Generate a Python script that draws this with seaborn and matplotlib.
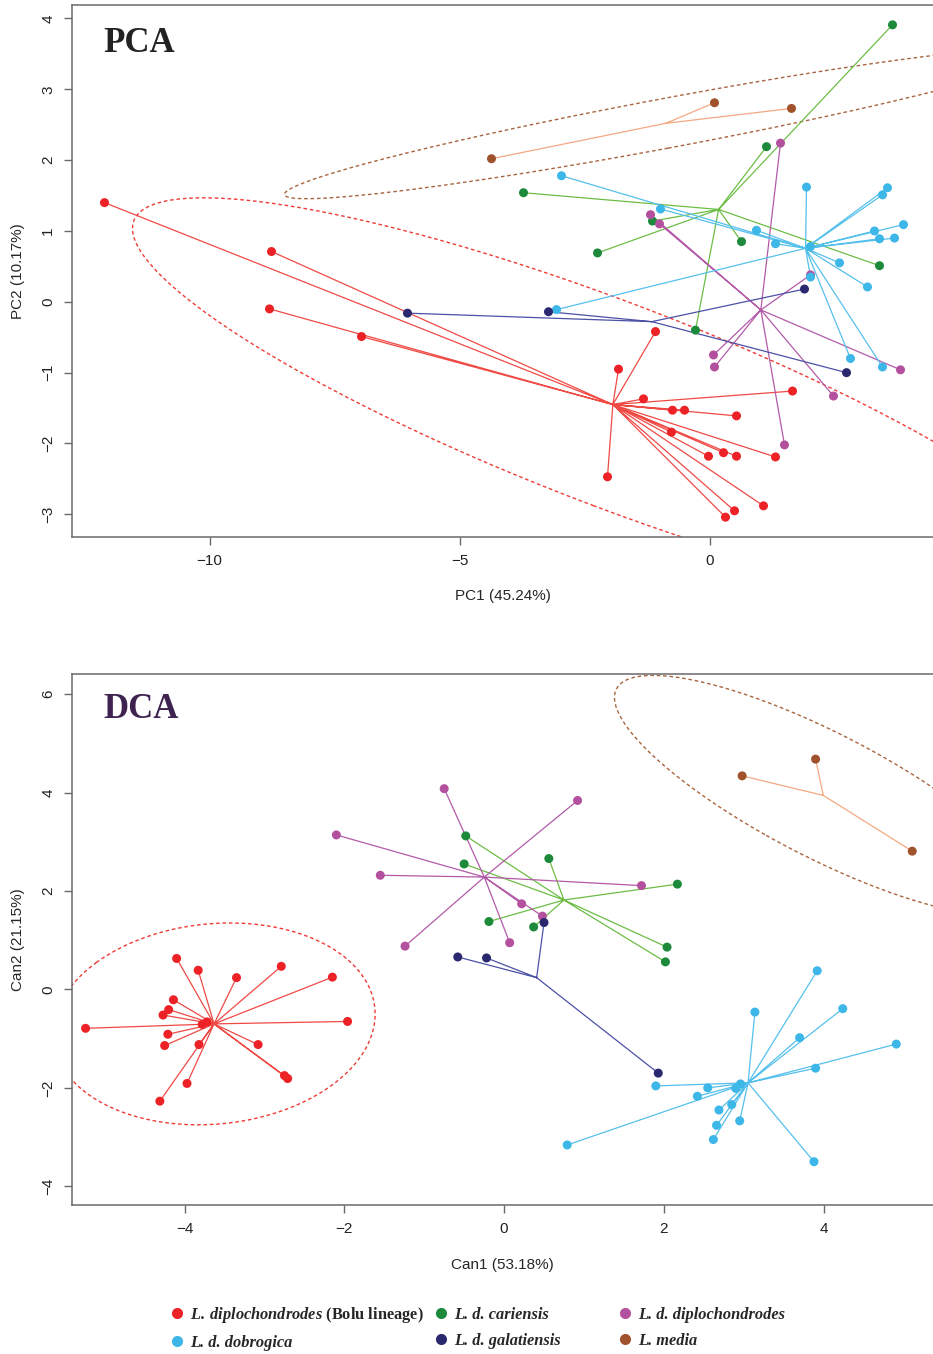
import numpy as np
import pandas as pd
import matplotlib
matplotlib.use("Agg")
import matplotlib.pyplot as plt
from matplotlib.lines import Line2D
import seaborn as sns

sns.set_style("ticks")
plt.rcParams['font.family'] = ['Liberation Sans', 'DejaVu Sans']
plt.rcParams.update({
    'mathtext.fontset': 'custom',
    'mathtext.rm': 'Liberation Serif:bold',
    'mathtext.it': 'Liberation Serif:italic:bold',
    'mathtext.bf': 'Liberation Serif:bold',
    'mathtext.bfit': 'Liberation Serif:italic:bold',
})

# ---------------------------------------------------------
# Data
# ---------------------------------------------------------
groups = ["bolu", "dobrogica", "cariensis", "galatiensis", "diplochondrodes", "media"]
group_labels = [
    r"$\mathbfit{L.\:diplochondrodes}$ (Bolu lineage)",
    "L. d. dobrogica",
    "L. d. cariensis",
    "L. d. galatiensis",
    "L. d. diplochondrodes",
    "L. media",
]

# PCA scores
bolu_pc1 = [-12.1, -8.76, -8.8, -6.96, -1.08, -1.82, -1.32, -0.74, -0.5, 0.54,
            1.66, -0.76, -0.02, 0.28, 0.54, 1.32, -2.04, 1.08, 0.5, 0.32]
bolu_pc2 = [1.40, 0.71, -0.10, -0.49, -0.42, -0.95, -1.37, -1.53, -1.53, -1.61,
            -1.26, -1.84, -2.18, -2.13, -2.18, -2.19, -2.47, -2.88, -2.95, -3.04]
cariensis_pc1 = [3.66, 1.14, -3.72, -1.14, 0.64, -2.24, 3.40, -0.28]
cariensis_pc2 = [3.91, 2.19, 1.54, 1.14, 0.85, 0.69, 0.51, -0.40]
diplo_pc1 = [1.42, -1.18, -1.00, 2.02, 0.08, 0.10, 3.82, 2.48, 1.50]
diplo_pc2 = [2.24, 1.23, 1.10, 0.38, -0.75, -0.92, -0.96, -1.33, -2.02]
dobro_pc1 = [-2.96, -0.98, 0.94, 1.32, 1.94, 3.56, 3.46, 3.88, 3.30, 3.40,
             3.70, 2.60, 3.16, 2.02, 2.02, -3.06, 2.82, 3.46]
dobro_pc2 = [1.78, 1.31, 1.01, 0.82, 1.62, 1.61, 1.51, 1.09, 1.00, 0.89,
             0.90, 0.55, 0.21, 0.35, 0.78, -0.11, -0.80, -0.92]
galat_pc1 = [-6.04, -3.22, 1.90, 2.74]
galat_pc2 = [-0.16, -0.14, 0.18, -1.00]
media_pc1 = [-4.36, 0.10, 1.64]
media_pc2 = [2.02, 2.81, 2.73]

# DCA scores
bolu_can1 = [-5.24, -4.10, -3.83, -3.35, -2.79, -2.15, -1.96, -4.14, -4.20, -4.27,
             -4.21, -4.25, -3.82, -3.78, -3.72, -3.08, -2.75, -2.71, -3.97, -4.31]
bolu_can2 = [-0.79, 0.63, 0.39, 0.24, 0.47, 0.25, -0.65, -0.21, -0.41, -0.52,
             -0.91, -1.14, -1.12, -0.71, -0.66, -1.12, -1.75, -1.81, -1.91, -2.27]
cariensis_can1 = [-0.48, -0.50, 0.56, 2.17, -0.19, 0.37, 2.04, 2.02]
cariensis_can2 = [3.12, 2.55, 2.66, 2.14, 1.38, 1.27, 0.86, 0.56]
diplo_can1 = [-0.75, 0.92, -2.10, -1.55, 1.72, 0.22, 0.48, 0.07, -1.24]
diplo_can2 = [4.08, 3.84, 3.14, 2.32, 2.11, 1.74, 1.49, 0.95, 0.88]
dobro_can1 = [3.92, 3.14, 4.24, 3.70, 4.91, 3.90, 1.90, 2.55, 2.42, 2.90,
              2.96, 2.85, 2.69, 2.66, 2.95, 2.62, 0.79, 3.88]
dobro_can2 = [0.38, -0.46, -0.39, -0.98, -1.11, -1.60, -1.96, -2.00, -2.17, -2.01,
              -1.92, -2.34, -2.45, -2.76, -2.67, -3.05, -3.16, -3.50]
galat_can1 = [0.50, -0.58, -0.22, 1.93]
galat_can2 = [1.36, 0.66, 0.64, -1.70]
media_can1 = [2.98, 3.90, 5.11]
media_can2 = [4.34, 4.68, 2.81]

point_colors = {"bolu": "#ec2227", "cariensis": "#1d8a3b", "diplochondrodes": "#b4519f",
                "dobrogica": "#3db6e8", "galatiensis": "#2a286f", "media": "#a0522d"}
line_colors = {"bolu": "#f04a45", "cariensis": "#6cbd45", "diplochondrodes": "#b35aa8",
               "dobrogica": "#55c0ec", "galatiensis": "#4c51a6", "media": "#f6a883"}
ellipse_colors = {"bolu": "#ef3b36", "media": "#a8653f"}

pca_scores = {"bolu": (bolu_pc1, bolu_pc2), "cariensis": (cariensis_pc1, cariensis_pc2),
              "diplochondrodes": (diplo_pc1, diplo_pc2), "dobrogica": (dobro_pc1, dobro_pc2),
              "galatiensis": (galat_pc1, galat_pc2), "media": (media_pc1, media_pc2)}
dca_scores = {"bolu": (bolu_can1, bolu_can2), "cariensis": (cariensis_can1, cariensis_can2),
              "diplochondrodes": (diplo_can1, diplo_can2), "dobrogica": (dobro_can1, dobro_can2),
              "galatiensis": (galat_can1, galat_can2), "media": (media_can1, media_can2)}


def to_frame(scores):
    rows = []
    for g, (xs, ys) in scores.items():
        for x, y in zip(xs, ys):
            rows.append({"group": g, "x": x, "y": y})
    return pd.DataFrame(rows)


def data_ellipse(x, y, r=2.4477, n=300):
    # 95% normal ellipse from the group covariance
    x = np.asarray(x); y = np.asarray(y)
    vals, vecs = np.linalg.eigh(np.cov(x, y))
    t = np.linspace(0, 2 * np.pi, n)
    circ = np.vstack([np.cos(t), np.sin(t)]) * np.sqrt(vals)[:, None] * r
    pts = vecs @ circ
    return pts[0] + x.mean(), pts[1] + y.mean()


def draw_panel(ax, scores):
    df = to_frame(scores)
    for g, (xs, ys) in scores.items():
        cx, cy = np.mean(xs), np.mean(ys)
        sx, sy = [], []
        for x, y in zip(xs, ys):
            sx += [cx, x, np.nan]
            sy += [cy, y, np.nan]
        ax.plot(sx, sy, color=line_colors[g], lw=0.9, zorder=2)
        if g in ellipse_colors:
            ex, ey = data_ellipse(xs, ys)
            ax.plot(ex, ey, color=ellipse_colors[g], lw=1.0,
                    ls=(0, (2.6, 2.0)), zorder=1)
    sns.scatterplot(data=df, x="x", y="y", hue="group", palette=point_colors,
                    s=42, linewidth=0, legend=False, ax=ax, zorder=3)
    ax.spines['right'].set_visible(False)
    for s in ['left', 'bottom', 'top']:
        ax.spines[s].set_color('#6a6a6a')
        ax.spines[s].set_linewidth(1.1)
    ax.tick_params(axis='both', length=6, width=1.0, color='#6a6a6a',
                   labelsize=11, pad=6, labelcolor='#222222')


W, H = 933, 1354
fig = plt.figure(figsize=(W / 100, H / 100), dpi=100)

# PCA panel
ax1 = fig.add_axes([72 / W, (H - 537) / H, (W - 72) / W, 532 / H])
draw_panel(ax1, pca_scores)
ax1.set_xlim(-12.75, 4.47)
ax1.set_ylim(-3.32, 4.19)
ax1.set_xticks([-10, -5, 0])
ax1.set_yticks([-3, -2, -1, 0, 1, 2, 3, 4])
ax1.set_xticklabels(["\u221210", "\u22125", "0"])
ax1.set_yticklabels(["\u22123", "\u22122", "\u22121", "0", "1", "2", "3", "4"],
                    rotation=90, va='center')
ax1.set_xlabel("PC1 (45.24%)", fontsize=11)
ax1.set_ylabel("PC2 (10.17%)", fontsize=11)
ax1.xaxis.set_label_coords(0.5, -0.098)
ax1.yaxis.set_label_coords(-0.055, 0.5)

# DCA panel
ax2 = fig.add_axes([72 / W, (H - 1205) / H, (W - 72) / W, 531 / H])
draw_panel(ax2, dca_scores)
ax2.set_xlim(-5.41, 5.37)
ax2.set_ylim(-4.38, 6.41)
ax2.set_xticks([-4, -2, 0, 2, 4])
ax2.set_yticks([-4, -2, 0, 2, 4, 6])
ax2.set_xticklabels(["\u22124", "\u22122", "0", "2", "4"])
ax2.set_yticklabels(["\u22124", "\u22122", "0", "2", "4", "6"], rotation=90, va='center')
ax2.set_xlabel("Can1 (53.18%)", fontsize=11)
ax2.set_ylabel("Can2 (21.15%)", fontsize=11)
ax2.xaxis.set_label_coords(0.5, -0.100)
ax2.yaxis.set_label_coords(-0.055, 0.5)

fig.text(103 / W, (H - 52) / H, "PCA", family="Liberation Serif", weight="bold",
         fontsize=25, color="#222222", va="baseline")
fig.text(103 / W, (H - 718) / H, "DCA", family="Liberation Serif", weight="bold",
         fontsize=25, color="#3e2350", va="baseline")

# legend in three columns
col_x = [170, 434, 618]
for i, cx in enumerate(col_x):
    gs = groups[2 * i:2 * i + 2]
    labs = group_labels[2 * i:2 * i + 2]
    handles = [Line2D([0], [0], marker='o', ls='none', markersize=8,
                      markerfacecolor=point_colors[g], markeredgewidth=0) for g in gs]
    leg = fig.legend(handles, labs, loc='center left',
                     bbox_to_anchor=(cx / W, (H - 1328) / H),
                     frameon=False, handlelength=0.8, handletextpad=0.4, borderpad=0,
                     borderaxespad=0, labelspacing=0.6,
                     prop={'family': 'Liberation Serif', 'weight': 'bold', 'size': 11.8})
    for t in leg.get_texts():
        if not t.get_text().startswith("$"):
            t.set_fontstyle("italic")

fig.savefig("out.png", dpi=100)
